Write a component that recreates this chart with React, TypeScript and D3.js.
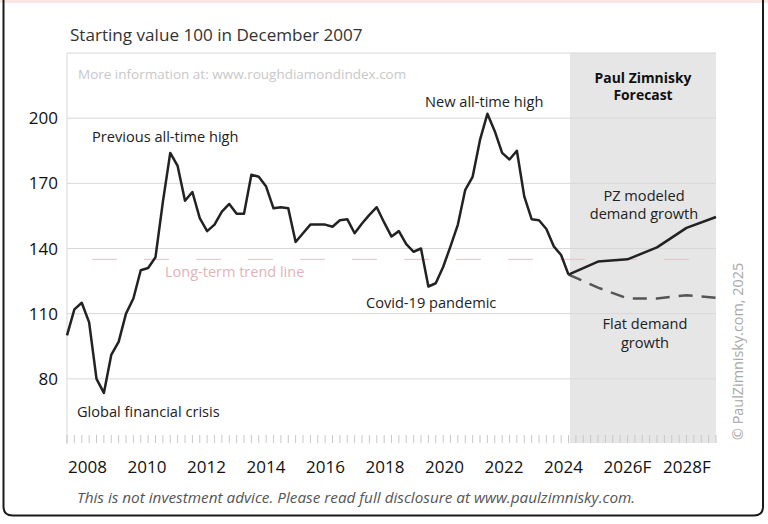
import React from "react";
import * as d3 from "d3";

// Quarterly index from December 2007 (0) ... December 2024 (68)
const histValues: number[] = [
  100, 112, 115, 106, 80, 73.5, 91, 97, 110, 117, 130, 131, 136, 161.5, 184, 178,
  162, 166, 154, 148, 151, 157, 160.5, 156, 156, 174, 173, 168.5, 158.5, 159, 158.5,
  143, 147, 151, 151, 151, 150, 153, 153.5, 147, 151.5, 155.5, 159, 152, 145.5, 148,
  142, 138.5, 140, 122.5, 124, 131.5, 141, 151, 167, 173, 190, 202, 194, 184, 181,
  185, 164, 153.5, 153, 149, 141, 137, 128,
];
// Forecast: annual points (quarter index)
const forecastIdx: number[] = [68, 72, 76, 80, 84, 88];
const forecastModeled: number[] = [128, 134, 135, 140.5, 149.5, 154.5];
const forecastFlat: number[] = [128, 122, 117, 117, 118.5, 117.3];

const trendValue = 135;
const yTicks: number[] = [80, 110, 140, 170, 200];
const gridValues: number[] = [80, 110, 140, 170, 200, 230];
const xLabelYears: number[] = [2008, 2010, 2012, 2014, 2016, 2018, 2020, 2022, 2024, 2026, 2028];
const xLabels: string[] = ["2008", "2010", "2012", "2014", "2016", "2018", "2020", "2022", "2024", "2026F", "2028F"];
const forecastStartIdx = 68.2;

const FONT = "'Open Sans', Lato, sans-serif";
const ANN = 14.6;

export default function App() {
  const W = 768, H = 524;
  const left = 67, right = 716, top = 53, bottom = 444;
  const x = d3.scaleLinear().domain([0, 88]).range([left, right]);
  const y = d3.scaleLinear().domain([50, 230]).range([bottom, top]);
  const xl = d3.scaleLinear().domain([2008, 2028]).range([68, 663]);

  const histData = histValues.map((v, i) => [i, v] as [number, number]);
  const line = d3.line<[number, number]>().x((d) => x(d[0])).y((d) => y(d[1]));
  const modeled = forecastIdx.map((q, i) => [q, forecastModeled[i]] as [number, number]);
  const flat = forecastIdx.map((q, i) => [q, forecastFlat[i]] as [number, number]);

  const tickIdx = d3.range(0, 89, 1);

  const frameL = 3.5, frameR = 763, frameB = 515.5, r = 9;
  const framePath = `M${frameL},0 L${frameL},${frameB - r} Q${frameL},${frameB} ${frameL + r},${frameB} L${frameR - r},${frameB} Q${frameR},${frameB} ${frameR},${frameB - r} L${frameR},0`;

  return (
    <svg width={W} height={H} style={{ position: "absolute", left: 0, top: 0, background: "#fff" }} fontFamily={FONT}>
      <rect x={0} y={0} width={W} height={3} fill="#fbe6e6" />
      <path d={framePath} fill="none" stroke="#1a1a1a" strokeWidth={2} />

      {/* Title */}
      <text x={70} y={41} fontSize={17.1} fill="#333">Starting value 100 in December 2007</text>

      {/* Forecast shaded region */}
      <rect x={x(forecastStartIdx)} y={top} width={right - x(forecastStartIdx)} height={bottom - top - 1} fill="#e6e6e6" />

      {/* Grid */}
      {gridValues.map((g) => (
        <line key={g} x1={left} x2={right} y1={y(g)} y2={y(g)} stroke="#d8d8d8" strokeWidth={1} />
      ))}
      <line x1={left} x2={left} y1={top} y2={bottom} stroke="#d8d8d8" strokeWidth={1} />

      {/* x ticks */}
      {tickIdx.map((t) => (
        <line key={t} x1={x(t)} x2={x(t)} y1={435} y2={443} stroke="#c8c8c8" strokeWidth={1} />
      ))}

      {/* y labels */}
      {yTicks.map((t) => (
        <text key={t} x={58} y={y(t)} dy="0.36em" textAnchor="end" fontSize={17} fill="#111">{t}</text>
      ))}

      {/* x labels */}
      {xLabelYears.map((yr, i) => (
        <text key={yr} x={xl(yr)} y={473} fontSize={17} fill="#111">{xLabels[i]}</text>
      ))}

      {/* Trend line */}
      <line x1={left} x2={right} y1={y(trendValue)} y2={y(trendValue)} stroke="#e8c4c6" strokeWidth={1} strokeDasharray="25 27" strokeDashoffset={27} />
      <text x={165} y={277} fontSize={14.5} fill="#e3b3b7">Long-term trend line</text>

      {/* Info text */}
      <text x={78} y={79} fontSize={13.5} fill="#c8c8c8">More information at: www.roughdiamondindex.com</text>

      {/* Forecast header */}
      <text fontSize={13.9} fontWeight="bold" textAnchor="middle" fill="#111">
        <tspan x={643} y={82.5}>Paul Zimnisky</tspan>
        <tspan x={643} y={100}>Forecast</tspan>
      </text>

      {/* Lines */}
      <path d={line(flat) || ""} fill="none" stroke="#555" strokeWidth={2.5} strokeDasharray="14 9" />
      <path d={line(histData) || ""} fill="none" stroke="#222" strokeWidth={2.5} strokeLinejoin="round" />
      <path d={line(modeled) || ""} fill="none" stroke="#222" strokeWidth={2.5} strokeLinejoin="round" />

      {/* Annotations */}
      <text x={92} y={142} fontSize={ANN} fill="#222">Previous all-time high</text>
      <text x={425} y={107} fontSize={ANN} fill="#222">New all-time high</text>
      <text x={366} y={308} fontSize={ANN} fill="#222">Covid-19 pandemic</text>
      <text x={77} y={417} fontSize={ANN} fill="#222">Global financial crisis</text>
      <text fontSize={ANN} textAnchor="middle" fill="#222">
        <tspan x={644} y={201}>PZ modeled</tspan>
        <tspan x={644} y={219}>demand growth</tspan>
      </text>
      <text fontSize={ANN} textAnchor="middle" fill="#222">
        <tspan x={645} y={329}>Flat demand</tspan>
        <tspan x={645} y={348}>growth</tspan>
      </text>

      {/* Copyright */}
      <text transform="translate(743,440) rotate(-90)" fontSize={14.4} fill="#a8a8a8">© PaulZimnisky.com, 2025</text>

      {/* Disclaimer */}
      <text x={77} y={503} fontSize={15.3} fontStyle="italic" fill="#555">This is not investment advice. Please read full disclosure at www.paulzimnisky.com.</text>
    </svg>
  );
}
